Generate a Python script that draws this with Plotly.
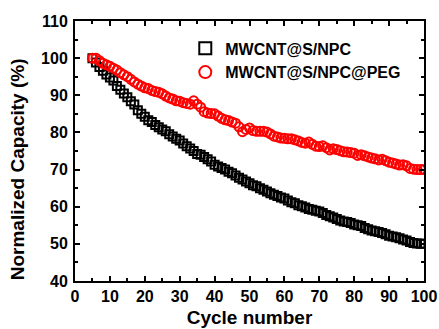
import plotly.graph_objects as go

cycles = list(range(5, 101))
npc = [100, 98.8, 97.6, 96.6, 95.6, 94.8, 94, 92.5, 91.5, 90.5, 89.5, 88.4, 87.5, 86, 85, 84.2,
       83.3, 82.8, 82, 81.4, 80.8, 80.3, 79.5, 78.9, 78.3, 77.8, 77, 76.3, 75.7, 75, 74.2, 74,
       73.4, 72.8, 72.2, 71.3, 70.8, 70.4, 70, 69.4, 69, 68.4, 67.8, 67.3, 66.8, 66.3, 65.8, 65.5,
       65, 64.6, 64.1, 63.6, 63.2, 62.9, 62.5, 62.2, 61.7, 61.2, 60.9, 60.4, 60.1, 59.8, 59.4, 59.2,
       58.9, 58.7, 58.3, 57.8, 57.4, 57.1, 56.7, 56.3, 56.0, 55.9, 55.6, 55.2, 55, 54.8, 54.3, 53.9,
       53.6, 53.4, 53.2, 52.9, 52.6, 52.2, 52, 51.8, 51.5, 51.2, 50.9, 50.5, 50.2, 50.1, 50, 50]
peg = [100, 100, 99.3, 98.6, 98.2, 97.8, 97.3, 96.8, 96.1, 95.5, 95, 94.3, 93.6, 93, 92.5, 92,
       91.8, 91.3, 91, 90.8, 90.4, 89.8, 89.3, 89, 88.5, 88.4, 88, 87.8, 87.6, 88.5, 87.6, 86.8,
       85.6, 85.2, 85.1, 85, 84.4, 83.8, 83.4, 83.2, 82.8, 82.5, 81.5, 80.2, 80.8, 81.2, 80.5, 80.3,
       80.3, 80.3, 80.1, 79.6, 79, 78.8, 78.5, 78.4, 78.3, 78.3, 78, 77.7, 77.3, 77.1, 77.4, 76.8,
       76.3, 76.2, 76.4, 75.9, 75.3, 75.6, 75.4, 75.1, 74.8, 74.7, 74.6, 74.4, 73.8, 74, 73.7, 73.4,
       73.1, 72.9, 72.6, 72.8, 72.4, 72, 71.8, 71.5, 71.2, 71.3, 71, 70.3, 70.1, 70, 70, 70]

FONT = "Arial, Liberation Sans, sans-serif"

fig = go.Figure()
fig.add_trace(go.Scatter(x=cycles, y=npc, mode="markers", name="MWCNT@S/NPC",
                         marker=dict(symbol="square-open", size=8, color="black",
                                     line=dict(width=2, color="black"))))
fig.add_trace(go.Scatter(x=cycles, y=peg, mode="markers", name="MWCNT@S/NPC@PEG",
                         marker=dict(symbol="circle-open", size=9, color="#ff0000",
                                     line=dict(width=2, color="#ff0000"))))

axis_common = dict(showline=True, linecolor="black", linewidth=2, mirror="allticks",
                   ticks="inside", ticklen=5, tickwidth=2, tickcolor="black",
                   showgrid=False, zeroline=False, automargin=False,
                   tickfont=dict(family=FONT, size=16, color="black", weight="bold"))

fig.update_xaxes(range=[0, 100], dtick=10, tick0=0,
                 minor=dict(dtick=5, ticks="inside", ticklen=3, tickwidth=1.5, tickcolor="black"),
                 title=dict(text="Cycle number", standoff=6,
                            font=dict(family=FONT, size=19, color="black", weight="bold")),
                 **axis_common)
fig.update_yaxes(range=[40, 110], dtick=10, tick0=40, ticklabelstandoff=2,
                 minor=dict(dtick=5, ticks="inside", ticklen=3, tickwidth=1.5, tickcolor="black"),
                 **axis_common)

fig.add_annotation(text="Normalized Capacity (%)", textangle=-90, xref="paper", yref="paper",
                   x=-0.166, y=0.43, showarrow=False, xanchor="center", yanchor="middle",
                   font=dict(family=FONT, size=19, color="black", weight="bold"))

fig.update_layout(width=439, height=329, margin=dict(l=75, r=15, t=21, b=48),
                  plot_bgcolor="white", paper_bgcolor="white",
                  legend=dict(x=0.316, y=0.96, xanchor="left", yanchor="top",
                              bgcolor="rgba(0,0,0,0)", tracegroupgap=0, itemsizing="constant",
                              font=dict(family=FONT, size=16, color="black", weight="bold")))

fig.write_html("out.html")
